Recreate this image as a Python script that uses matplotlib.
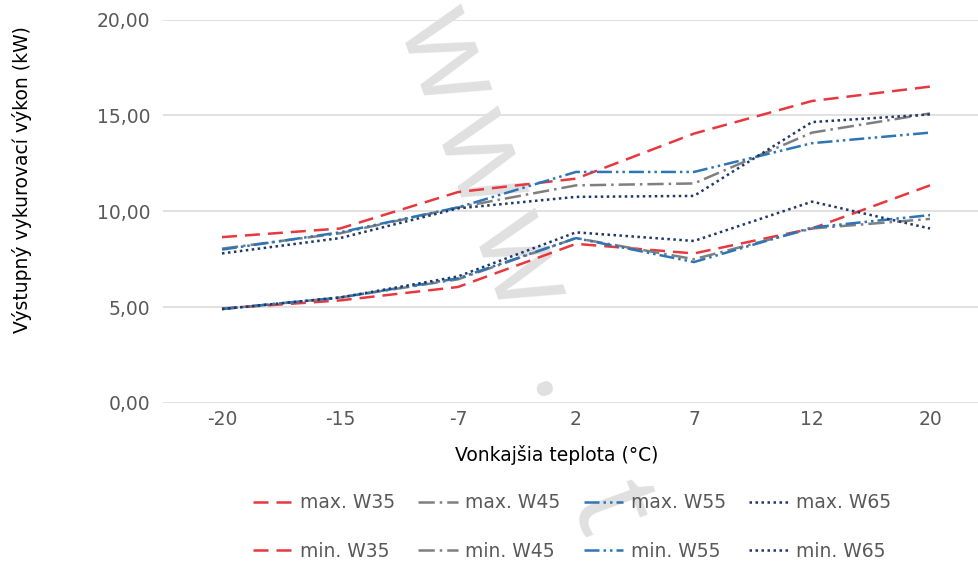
import matplotlib
matplotlib.use("Agg")
import math
import matplotlib.pyplot as plt
from matplotlib.ticker import FuncFormatter

# outdoor temperatures (category axis)
teploty = ["-20", "-15", "-7", "2", "7", "12", "20"]

# heating output in kW
max_w35 = [8.65, 9.1, 11.0, 11.7, 14.05, 15.75, 16.5]
max_w45 = [8.05, 8.85, 10.2, 11.35, 11.45, 14.1, 15.1]
max_w55 = [8.0, 8.9, 10.2, 12.05, 12.05, 13.55, 14.1]
max_w65 = [7.8, 8.6, 10.15, 10.75, 10.8, 14.65, 15.05]

min_w35 = [4.93, 5.35, 6.05, 8.3, 7.8, 9.1, 11.35]
min_w45 = [4.9, 5.5, 6.45, 8.6, 7.5, 9.1, 9.6]
min_w55 = [4.9, 5.5, 6.5, 8.6, 7.35, 9.15, 9.8]
min_w65 = [4.9, 5.5, 6.6, 8.9, 8.45, 10.5, 9.1]

RED = "#E8383F"
GRAY = "#7F7F7F"
BLUE = "#2E75B6"
NAVY = "#203864"

W, H = 979, 564
fig = plt.figure(figsize=(W / 100, H / 100), dpi=100)
ax = fig.add_axes([163 / W, 1 - 403 / H, (989 - 163) / W, (403 - 19.5) / H])

x = list(range(len(teploty)))
lw = 1.8
series = [
    (max_w35, "max. W35", RED, (6, 3.2)),
    (min_w35, "min. W35", RED, (6, 3.2)),
    (max_w45, "max. W45", GRAY, (6.5, 2, 1, 2)),
    (min_w45, "min. W45", GRAY, (6.5, 2, 1, 2)),
    (max_w55, "max. W55", BLUE, (6, 1.6, 1, 1.6, 1, 1.6)),
    (min_w55, "min. W55", BLUE, (6, 1.6, 1, 1.6, 1, 1.6)),
    (max_w65, "max. W65", NAVY, (1, 1.4)),
    (min_w65, "min. W65", NAVY, (1, 1.4)),
]
for vals, label, color, dash in series:
    ax.plot(x, vals, color=color, lw=lw, dashes=dash, label=label, zorder=3)

ax.set_xlim(-0.5, 6.5)
ax.set_ylim(0, 20)
ax.set_yticks([0, 5, 10, 15, 20])
ax.yaxis.set_major_formatter(FuncFormatter(lambda v, p: f"{v:.2f}".replace(".", ",")))
ax.set_xticks(x)
ax.set_xticklabels(teploty)
ax.grid(axis="y", color="#D9D9D9", lw=1.1, zorder=0)
ax.set_axisbelow(True)
for s in ax.spines.values():
    s.set_visible(False)
ax.tick_params(axis="both", length=0, labelsize=13.5, colors="#595959")
ax.tick_params(axis="y", pad=9)
ax.tick_params(axis="x", pad=5)

fig.text(22 / W, 1 - 180 / H, "Výstupný vykurovací výkon (kW)", rotation=90,
         ha="center", va="center", fontsize=13.5, color="black")
fig.text(557 / W, 1 - 455 / H, "Vonkajšia teplota (°C)",
         ha="center", va="center", fontsize=13.5, color="black")

# faint watermark: letters laid one by one along a slanted baseline
# (pixel coords from the top-left corner, y going down)
ang = math.radians(70)
bx0, by0 = 532, 398
for ch, py in [("w", 70), ("w", 172), ("w", 274), (".", 398), ("t", 520)]:
    px = bx0 + (py - by0) / math.tan(ang)
    ax.text(px / W, 1 - py / H, ch, transform=fig.transFigure, rotation=-70,
            rotation_mode="anchor", ha="center", va="baseline", fontsize=88,
            family="Open Sans", color="#E0E0E0", zorder=2, clip_on=False)

leg = fig.legend(loc="center", bbox_to_anchor=(572 / W, 1 - 527 / H), ncol=4,
                 frameon=False, fontsize=13.5, handlelength=2.1, handletextpad=0.4,
                 columnspacing=1.25, labelspacing=1.55)
for t in leg.get_texts():
    t.set_color("#595959")

fig.savefig("out.png", dpi=100)
